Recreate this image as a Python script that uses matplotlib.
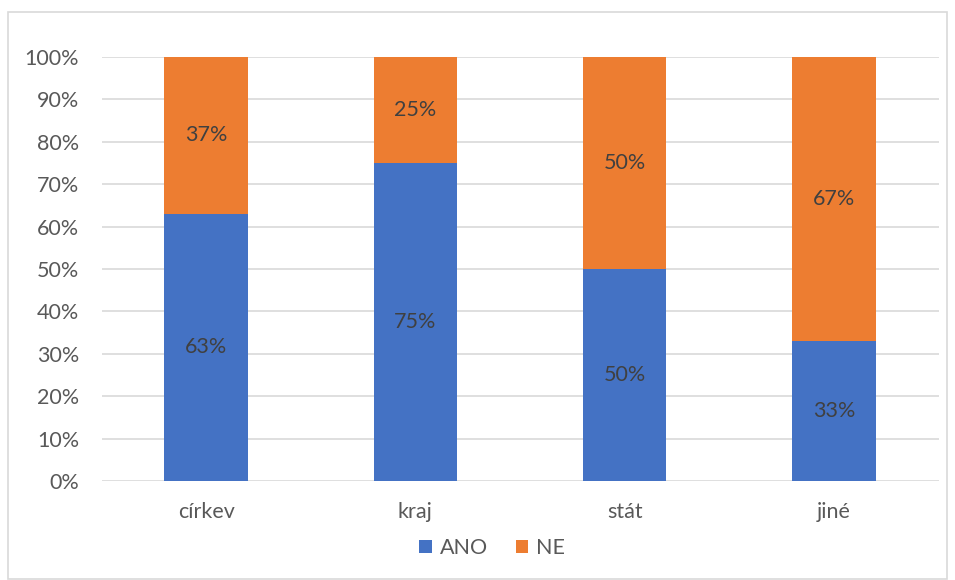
import matplotlib.pyplot as plt
from matplotlib.patches import Rectangle
import numpy as np

plt.rcParams['font.family'] = ['Lato', 'DejaVu Sans']

categories = ['církev', 'kraj', 'stát', 'jiné']
ano = [63, 75, 50, 33]
ne = [37, 25, 50, 67]

blue = '#4472C4'
orange = '#ED7D31'
text_gray = '#595959'
label_gray = '#404040'
fs = 15.5

fig = plt.figure(figsize=(9.55, 5.8), dpi=100)
ax = fig.add_axes([101.5 / 955, 1 - 481 / 580, 837 / 955, 424 / 580])

# chart frame
fig.patches.append(Rectangle((8 / 955, 1 / 580), 939 / 955, 567 / 580,
                             transform=fig.transFigure, fill=False,
                             edgecolor='#D9D9D9', linewidth=1.2))

x = np.arange(len(categories))
w = 0.4
b1 = ax.bar(x, ano, w, color=blue, label='ANO', zorder=3)
b2 = ax.bar(x, ne, w, bottom=ano, color=orange, label='NE', zorder=3)

for bars, vals, bottoms in ((b1, ano, [0] * 4), (b2, ne, ano)):
    for rect, v, b in zip(bars, vals, bottoms):
        ax.text(rect.get_x() + rect.get_width() / 2, b + v / 2, f'{v:.0f}%',
                ha='center', va='center', fontsize=fs, color=label_gray, zorder=4)

ax.set_xlim(-0.5, len(categories) - 0.5)
ax.set_ylim(0, 100)
ax.set_yticks(range(0, 101, 10))
ax.set_yticklabels([f'{t}%' for t in range(0, 101, 10)])
ax.set_xticks(x)
ax.set_xticklabels(categories)
ax.yaxis.grid(True, color='#D9D9D9', linewidth=1.2, zorder=0)
ax.tick_params(axis='both', length=0, labelsize=fs, labelcolor=text_gray)
ax.tick_params(axis='y', pad=16)
ax.tick_params(axis='x', pad=15)
for s in ax.spines.values():
    s.set_visible(False)

fig.legend(handles=[b1, b2], loc='center', bbox_to_anchor=(492 / 955, 1 - 548 / 580),
           ncol=2, frameon=False, fontsize=fs, handlelength=0.6, handleheight=0.6,
           handletextpad=0.35, columnspacing=1.3, labelcolor=text_gray)

fig.savefig('out.png', dpi=100)
